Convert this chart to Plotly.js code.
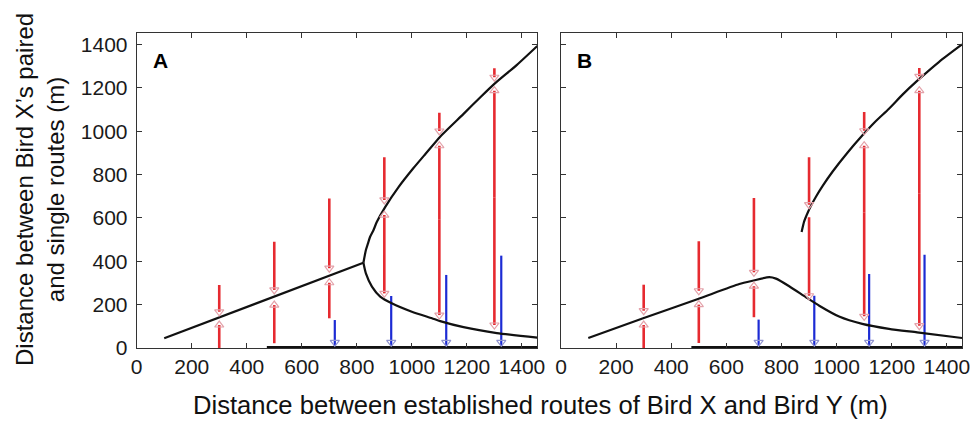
<!DOCTYPE html>
<html>
<head>
<meta charset="utf-8">
<script src="https://cdn.plot.ly/plotly-3.0.1.min.js"></script>
<style>html,body{margin:0;padding:0;background:#fff;}#chart{width:974px;height:423px;}</style>
</head>
<body>
<div id="chart"></div>
<script>
// ---------- Data ----------
const tickVals = [0, 200, 400, 600, 800, 1000, 1200, 1400];
const tickText = ["0", "200", "400", "600", "800", "1000", "1200", "1400"];

// Panel A curves
const A_linX = [100, 757, 824];
const A_linY = [45, 362, 393];
const A_lowX = [824, 833, 855, 885, 927, 1000, 1073, 1103, 1188, 1309, 1456];
const A_lowY = [393, 344, 283, 237, 206, 167, 137, 124, 96, 69, 48];
const A_upX = [824, 833, 840, 848, 860, 873, 903, 951, 1006, 1050, 1103, 1188, 1250, 1303, 1382, 1456];
const A_upY = [393, 452, 480, 512, 542, 582, 650, 741, 830, 896, 975, 1080, 1158, 1222, 1306, 1393];

// Panel B curves
const B_lowX = [99, 298, 497, 647, 695, 756, 780, 828, 889, 937, 1009, 1093, 1190, 1292, 1455];
const B_lowY = [46, 137, 226, 295, 310, 327, 320, 285, 234, 195, 145, 111, 88, 72, 46];
const B_upX = [873, 882, 895, 907, 925, 950, 985, 1040, 1093, 1140, 1190, 1240, 1292, 1371, 1455];
const B_upY = [535, 583, 624, 656, 698, 749, 813, 902, 980, 1044, 1104, 1170, 1232, 1319, 1400];

// Thick black baseline segment (single-route region)
const baseX = [473, 1456];
const baseY = [0, 0];

// Red arrows: x, start value, end (head) value
const A_arrowX    = [300, 300, 500, 500, 700, 700, 900, 900, 900, 1100, 1100, 1100, 1300, 1300, 1300];
const A_arrowFrom = [291, 0,   490, 22,  690, 137, 880, 498, 498, 1085, 594,  594,  1290, 695,  695];
const A_arrowTo   = [167, 106, 268, 198, 368, 301, 683, 613, 252, 1001, 933,  152,  1249, 1187, 106];

const B_arrowX    = [300, 300, 500, 500, 700, 700, 900, 900, 1100, 1100, 1100, 1300, 1300, 1300];
const B_arrowFrom = [292, 0,   492, 23,  692, 142, 880, 603, 1089, 626,  626,  1292, 714,  714];
const B_arrowTo   = [172, 106, 264, 200, 349, 285, 661, 241, 1002, 933,  146,  1253, 1187, 103];

// Blue arrows (down to zero)
const A_blueX   = [720, 925, 1125, 1325];
const A_blueTop = [129, 240, 337, 426];
const B_blueX   = [717, 919, 1118, 1319];
const B_blueTop = [131, 241, 341, 430];
const blueHead  = 26;

// ---------- Styles ----------
const FONT = "Liberation Sans, Arial, Helvetica, sans-serif";
const BLACK = "#111111";
const RED = "#e62a30";
const BLUE = "#1c2bd4";
const RED_HEAD = "#e3a2aa";
const BLUE_HEAD = "#8f93cf";

function curve(x, y, xa, ya, shape) {
  return {x: x, y: y, xaxis: xa, yaxis: ya, mode: "lines", type: "scatter",
    line: {color: BLACK, width: 2.2, shape: shape || "spline", smoothing: 0.6},
    hoverinfo: "skip", showlegend: false};
}
function arrowLines(xs, from, to, xa, ya, color, width) {
  const x = [], y = [];
  for (let i = 0; i < xs.length; i++) { x.push(xs[i], xs[i], null); y.push(from[i], to[i], null); }
  return {x: x, y: y, xaxis: xa, yaxis: ya, mode: "lines", type: "scatter",
    line: {color: color, width: width}, hoverinfo: "skip", showlegend: false};
}
function arrowHeads(xs, from, to, xa, ya, color) {
  const sym = to.map((t, i) => (t < from[i] ? "triangle-down-open" : "triangle-up-open"));
  return {x: xs, y: to, xaxis: xa, yaxis: ya, mode: "markers", type: "scatter", cliponaxis: false,
    marker: {symbol: sym, size: 8, color: color, line: {color: color, width: 1.2}},
    hoverinfo: "skip", showlegend: false};
}
function baseline(xa, ya) {
  return {x: baseX, y: baseY, xaxis: xa, yaxis: ya, mode: "lines", type: "scatter",
    line: {color: BLACK, width: 4}, hoverinfo: "skip", showlegend: false};
}

const traces = [
  // Panel A
  arrowLines(A_arrowX, A_arrowFrom, A_arrowTo, "x", "y", RED, 2.6),
  arrowLines(A_blueX, A_blueTop, A_blueX.map(() => 0), "x", "y", BLUE, 2.2),
  curve(A_linX, A_linY, "x", "y", "linear"),
  curve(A_lowX, A_lowY, "x", "y"),
  curve(A_upX, A_upY, "x", "y"),
  baseline("x", "y"),
  arrowHeads(A_arrowX, A_arrowFrom, A_arrowTo, "x", "y", RED_HEAD),
  arrowHeads(A_blueX, A_blueTop, A_blueX.map(() => blueHead), "x", "y", BLUE_HEAD),
  // Panel B
  arrowLines(B_arrowX, B_arrowFrom, B_arrowTo, "x2", "y2", RED, 2.6),
  arrowLines(B_blueX, B_blueTop, B_blueX.map(() => 0), "x2", "y2", BLUE, 2.2),
  curve(B_lowX, B_lowY, "x2", "y2"),
  curve(B_upX, B_upY, "x2", "y2"),
  baseline("x2", "y2"),
  arrowHeads(B_arrowX, B_arrowFrom, B_arrowTo, "x2", "y2", RED_HEAD),
  arrowHeads(B_blueX, B_blueTop, B_blueX.map(() => blueHead), "x2", "y2", BLUE_HEAD)
];

const W = 974, H = 423;
const yDom = [(H - 348) / H, (H - 33) / H];
function xAxis(domain, anchor) {
  return {domain: domain, anchor: anchor, range: [0, 1456], tickvals: tickVals, ticktext: tickText,
    ticks: "inside", ticklen: 5, tickwidth: 1, tickcolor: "#333", showline: true, linecolor: "#333",
    linewidth: 1, mirror: "ticks", showgrid: false, zeroline: false,
    tickfont: {family: FONT, size: 21, color: "#1a1a1a"}, fixedrange: true};
}
function yAxis(anchor, showLabels) {
  return {domain: yDom, anchor: anchor, range: [0, 1453], tickvals: tickVals, ticktext: tickText,
    showticklabels: showLabels,
    ticks: "inside", ticklen: 5, tickwidth: 1, tickcolor: "#333", showline: true, linecolor: "#333",
    linewidth: 1, mirror: "ticks", showgrid: false, zeroline: false, ticklabelstandoff: 4,
    tickfont: {family: FONT, size: 21, color: "#1a1a1a"}, fixedrange: true};
}

const layout = {
  width: W, height: H,
  margin: {l: 0, r: 0, t: 0, b: 0},
  paper_bgcolor: "#ffffff", plot_bgcolor: "#ffffff",
  showlegend: false,
  xaxis: xAxis([136.7 / W, 537.3 / W], "y"),
  yaxis: yAxis("x", true),
  xaxis2: xAxis([561 / W, 962.3 / W], "y2"),
  yaxis2: yAxis("x2", false),
  annotations: [
    {text: "<b>A</b>", xref: "paper", yref: "paper", x: 160.5 / W, y: 1 - 60.5 / H,
     xanchor: "center", yanchor: "middle", showarrow: false, font: {family: FONT, size: 21, color: "#000"}},
    {text: "<b>B</b>", xref: "paper", yref: "paper", x: 584 / W, y: 1 - 60.5 / H,
     xanchor: "center", yanchor: "middle", showarrow: false, font: {family: FONT, size: 21, color: "#000"}},
    {text: "Distance between established routes of Bird X and Bird Y (m)", xref: "paper", yref: "paper",
     x: 540 / W, y: 1 - 405 / H, xanchor: "center", yanchor: "middle", showarrow: false,
     font: {family: FONT, size: 25.6, color: "#111"}},
    {text: "Distance between Bird X\u2019s paired<br>and single routes (m)", xref: "paper", yref: "paper",
     x: 40 / W, y: 1 - 190 / H, xanchor: "center", yanchor: "middle", showarrow: false, textangle: -90,
     font: {family: FONT, size: 24, color: "#111"}}
  ]
};

Plotly.newPlot("chart", traces, layout, {staticPlot: true, displayModeBar: false});
</script>
</body>
</html>
